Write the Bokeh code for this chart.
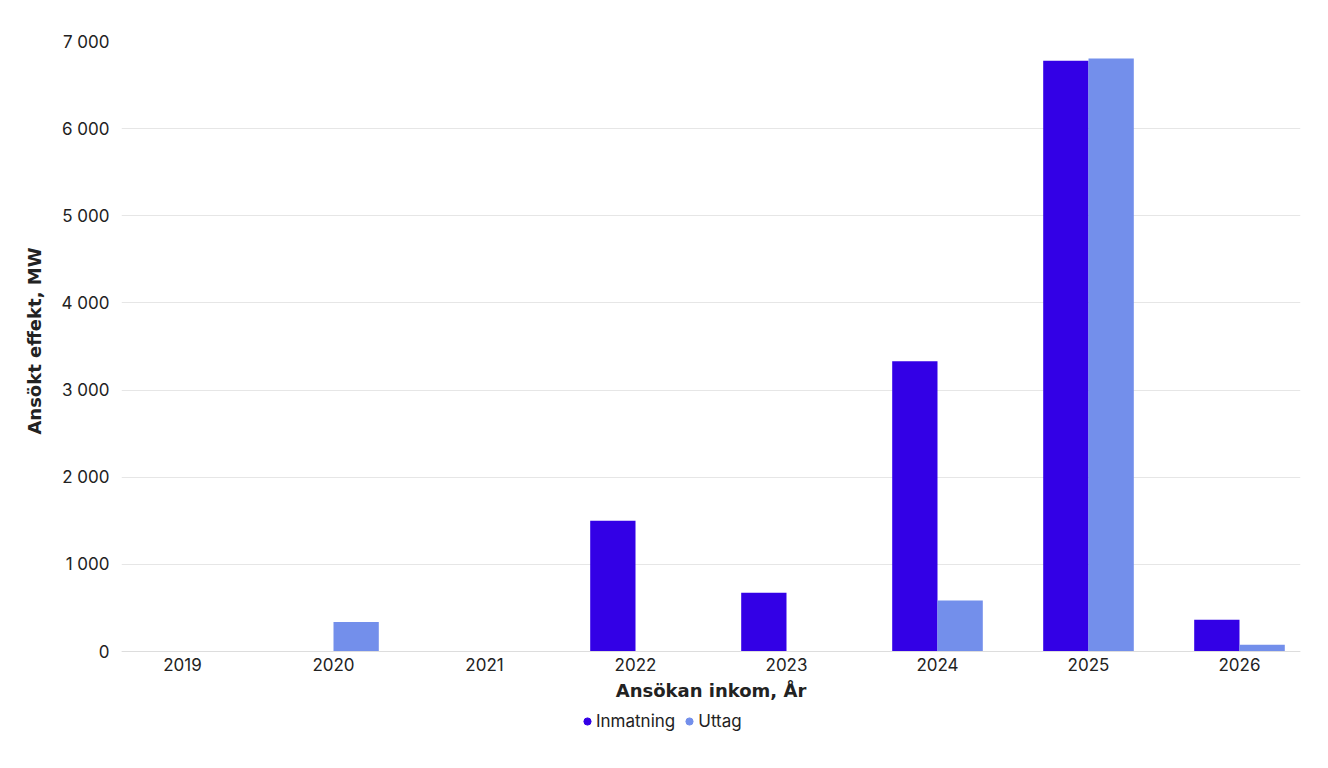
from bokeh.plotting import figure
from bokeh.models import Range1d, FixedTicker, Legend, LegendItem, Title
from bokeh.embed import file_html
from bokeh.resources import INLINE

years = ["2019", "2020", "2021", "2022", "2023", "2024", "2025", "2026"]
inmatning = [0, 0, 0, 1500, 675, 3330, 6780, 365]
uttag = [0, 340, 0, 0, 0, 585, 6805, 78]
y_ticks = [0, 1000, 2000, 3000, 4000, 5000, 6000, 7000]

c_in = "#3300e6"
c_ut = "#738feb"
txt = "#222222"

# frame runs below the zero line so the legend can sit under the x axis
p = figure(width=1320, height=760, output_backend="svg", toolbar_location=None,
           x_range=Range1d(0.096, 7.904), y_range=Range1d(-1021, 7000),
           min_border_left=121, min_border_right=20, min_border_top=41, min_border_bottom=20)
p.outline_line_color = None

xs = [i + 0.5 for i in range(len(years))]
p.vbar(x=[x - 0.15 for x in xs], top=inmatning, width=0.3, fill_color=c_in, line_color=None)
p.vbar(x=[x + 0.15 for x in xs], top=uttag, width=0.3, fill_color=c_ut, line_color=None)

# legend dots (one point each, outside the visible range)
r_in = p.scatter(x=[-10], y=[-5000], size=9, marker="circle", color=c_in)
r_ut = p.scatter(x=[-10], y=[-5000], size=9, marker="circle", color=c_ut)
leg = Legend(items=[LegendItem(label="Inmatning", renderers=[r_in]),
                    LegendItem(label="Uttag", renderers=[r_ut])],
             orientation="horizontal", location=(457, 9),
             border_line_color=None, background_fill_alpha=0,
             padding=0, margin=0, spacing=5, label_standoff=0,
             glyph_width=18, glyph_height=18,
             label_text_font="Inter", label_text_font_size="17px", label_text_color=txt)
p.add_layout(leg, "center")

# x axis
p.xaxis.fixed_location = 0
p.xaxis.ticker = FixedTicker(ticks=xs)
p.xaxis.major_label_overrides = {x: y for x, y in zip(xs, years)}
p.xaxis.major_tick_line_color = None
p.xaxis.major_tick_out = 0
p.xaxis.minor_tick_line_color = None
p.xaxis.axis_line_color = "#dddddd"
p.xaxis.major_label_standoff = 6
p.xaxis.major_label_text_font = "Inter"
p.xaxis.major_label_text_font_size = "17px"
p.xaxis.major_label_text_color = txt
p.xaxis.axis_label = "Ansökan inkom, År"
p.xaxis.axis_label_text_font = "DejaVu Sans"
p.xaxis.axis_label_text_font_style = "bold"
p.xaxis.axis_label_text_font_size = "18px"
p.xaxis.axis_label_text_color = txt
p.xaxis.axis_label_standoff = 6

# y axis
p.yaxis.ticker = FixedTicker(ticks=y_ticks)
p.yaxis.major_label_overrides = {v: f"{v:,}".replace(",", " ") for v in y_ticks}
p.yaxis.major_tick_line_color = None
p.yaxis.major_tick_out = 0
p.yaxis.minor_tick_line_color = None
p.yaxis.axis_line_color = None
p.yaxis.major_label_standoff = 12
p.yaxis.major_label_text_font = "Inter"
p.yaxis.major_label_text_font_size = "17px"
p.yaxis.major_label_text_color = txt

# y title as a side title so it sits on the 0-7000 part, not the whole frame
p.add_layout(Title(text="Ansökt effekt, MW", align="right", offset=206, standoff=28,
                   text_font="DejaVu Sans", text_font_style="bold",
                   text_font_size="18px", text_color=txt), "left")

p.xgrid.grid_line_color = None
p.ygrid.grid_line_color = "#e6e6e6"

open("out.html", "w").write(file_html(p, INLINE))
